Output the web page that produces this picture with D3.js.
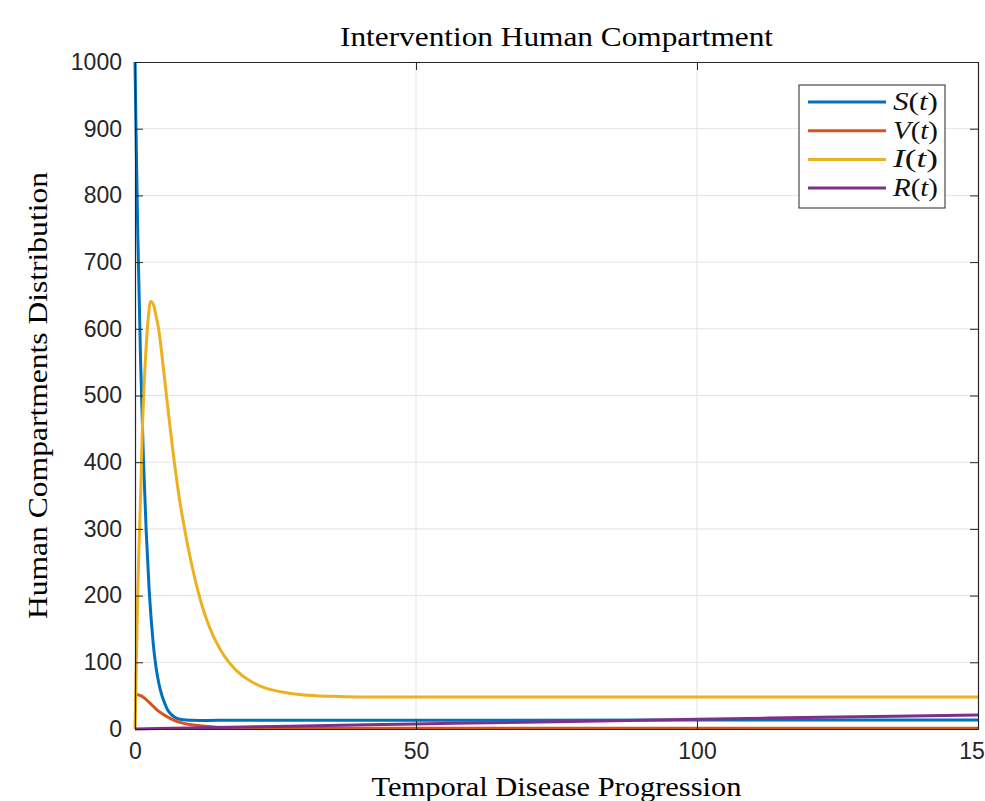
<!DOCTYPE html>
<html>
<head>
<meta charset="utf-8">
<script src="https://cdn.jsdelivr.net/npm/d3@7"></script>
<style>
  body { margin: 0; background: #fff; }
  svg { display: block; }
</style>
</head>
<body>
<script>
// data
const tS = [0, 0.5, 1, 1.5, 2, 2.5, 3, 3.5, 4, 4.5, 5, 6, 7, 8, 10, 15, 30, 60, 100, 150];
const S  = [1000, 740, 550, 405, 295, 212, 152, 108, 79, 59, 45, 26, 18, 14.5, 13, 13, 13, 13, 13.5, 13.5];

const tV = [0, 1, 2, 3, 4, 5, 6, 7, 8, 10, 12, 14, 17, 20, 30, 50, 100, 150];
const V  = [52, 50, 44, 36, 28, 22, 17, 13, 10, 6.5, 4.5, 3, 2, 1.5, 1, 1, 1, 1];

const tI = [0, 0.2, 0.4, 0.7, 1, 1.4, 2, 2.4, 2.8, 3.2, 3.6, 4.2, 5, 6, 7, 8, 9, 10, 11.2, 12.5, 14, 16, 18, 20.5, 23, 26.4, 30, 35, 40, 60, 100, 150];
const I  = [0, 80, 170, 270, 350, 470, 575, 620, 641, 638, 625, 600, 545, 470, 400, 340, 292, 250, 207, 170, 138, 108, 88, 72, 62, 55, 51, 49, 48, 48, 48, 48];

const tR = [0, 10, 25, 50, 75, 100, 125, 150];
const R  = [0, 1.5, 3.8, 7.5, 11, 14.5, 18, 21];

const seriesNames = ["S", "V", "I", "R"];
const colors = ["#0072BD", "#D95319", "#EDB120", "#7E2F8E"];
const xTicks = [0, 50, 100, 150];
const yTicks = d3.range(0, 1001, 100);

const W = 985, H = 801;
const mLeft = 135, mRight = 978, mTop = 62, mBottom = 729;

const svg = d3.select("body").append("svg")
  .attr("width", W).attr("height", H);

const x = d3.scaleLinear().domain([0, 150]).range([mLeft, mRight]);
const y = d3.scaleLinear().domain([0, 1000]).range([mBottom, mTop]);

// grid
svg.append("g").selectAll("line").data(yTicks.slice(1, -1)).enter().append("line")
  .attr("x1", mLeft).attr("x2", mRight)
  .attr("y1", d => y(d)).attr("y2", d => y(d))
  .attr("stroke", "#e3e3e3").attr("stroke-width", 1);
svg.append("g").selectAll("line").data(xTicks.slice(1, -1)).enter().append("line")
  .attr("y1", mTop).attr("y2", mBottom)
  .attr("x1", d => x(d)).attr("x2", d => x(d))
  .attr("stroke", "#e3e3e3").attr("stroke-width", 1);

// curves
const line = d3.line()
  .x(d => x(d[0])).y(d => y(d[1]))
  .curve(d3.curveCatmullRom.alpha(0.5));

const series = [
  d3.zip(tS, S), d3.zip(tV, V), d3.zip(tI, I), d3.zip(tR, R)
];
// draw order as MATLAB: S, V, I, R
series.forEach((s, i) => {
  svg.append("path")
    .datum(s)
    .attr("d", line)
    .attr("fill", "none")
    .attr("stroke", colors[i])
    .attr("stroke-width", 3)
    .attr("stroke-linejoin", "round");
});

// axes (box with inward ticks)
const axisColor = "#262626";
const yAx = d3.axisLeft(y).tickValues(yTicks).tickFormat(d3.format("d"))
  .tickSizeInner(-8).tickSizeOuter(0).tickPadding(13);
const xAx = d3.axisBottom(x).tickValues(xTicks).tickFormat(d3.format("d"))
  .tickSizeInner(-8).tickSizeOuter(0).tickPadding(14);

const gy = svg.append("g").attr("transform", "translate(" + mLeft + ",0)").call(yAx);
const gx = svg.append("g").attr("transform", "translate(0," + mBottom + ")").call(xAx);
const gy2 = svg.append("g").attr("transform", "translate(" + mRight + ",0)")
  .call(d3.axisRight(y).tickValues(yTicks).tickSizeInner(-8).tickSizeOuter(0).tickFormat(""));
const gx2 = svg.append("g").attr("transform", "translate(0," + mTop + ")")
  .call(d3.axisTop(x).tickValues(xTicks).tickSizeInner(-8).tickSizeOuter(0).tickFormat(""));

[gy, gx, gy2, gx2].forEach(g => {
  g.select(".domain").attr("stroke", axisColor).attr("stroke-width", 1.2);
  g.selectAll(".tick line").attr("stroke", axisColor);
  g.selectAll(".tick text")
    .attr("fill", axisColor)
    .style("font-family", "'Liberation Sans', Arial, sans-serif")
    .style("font-size", "23px");
});

// title and labels
const serif = "'Liberation Serif', 'DejaVu Serif', serif";
svg.append("text")
  .attr("x", (mLeft + mRight) / 2).attr("y", 46)
  .attr("text-anchor", "middle")
  .style("font-family", serif).style("font-size", "27px")
  .attr("textLength", 433).attr("lengthAdjust", "spacingAndGlyphs")
  .text("Intervention Human Compartment");

svg.append("text")
  .attr("x", (mLeft + mRight) / 2).attr("y", 796)
  .attr("text-anchor", "middle")
  .style("font-family", serif).style("font-size", "27px")
  .attr("textLength", 370).attr("lengthAdjust", "spacingAndGlyphs")
  .text("Temporal Disease Progression");

svg.append("text")
  .attr("transform", "translate(47," + ((mTop + mBottom) / 2) + ") rotate(-90)")
  .attr("text-anchor", "middle")
  .style("font-family", serif).style("font-size", "27px")
  .attr("textLength", 447).attr("lengthAdjust", "spacingAndGlyphs")
  .text("Human Compartments Distribution");

// legend
const lg = svg.append("g");
lg.append("rect")
  .attr("x", 799).attr("y", 85).attr("width", 146).attr("height", 123)
  .attr("fill", "#fff").attr("stroke", axisColor).attr("stroke-width", 1);
seriesNames.forEach((n, i) => {
  const ly = 102 + i * 28.7;
  lg.append("line")
    .attr("x1", 808).attr("x2", 886).attr("y1", ly).attr("y2", ly)
    .attr("stroke", colors[i]).attr("stroke-width", 3);
  const t = lg.append("text")
    .attr("x", 893).attr("y", ly + 8)
    .style("font-family", serif).style("font-size", "25px").attr("fill", "#111")
    .attr("textLength", 45).attr("lengthAdjust", "spacingAndGlyphs");
  t.append("tspan").style("font-style", "italic").text(n);
  t.append("tspan").text("(");
  t.append("tspan").style("font-style", "italic").text("t");
  t.append("tspan").text(")");
});
</script>
</body>
</html>
